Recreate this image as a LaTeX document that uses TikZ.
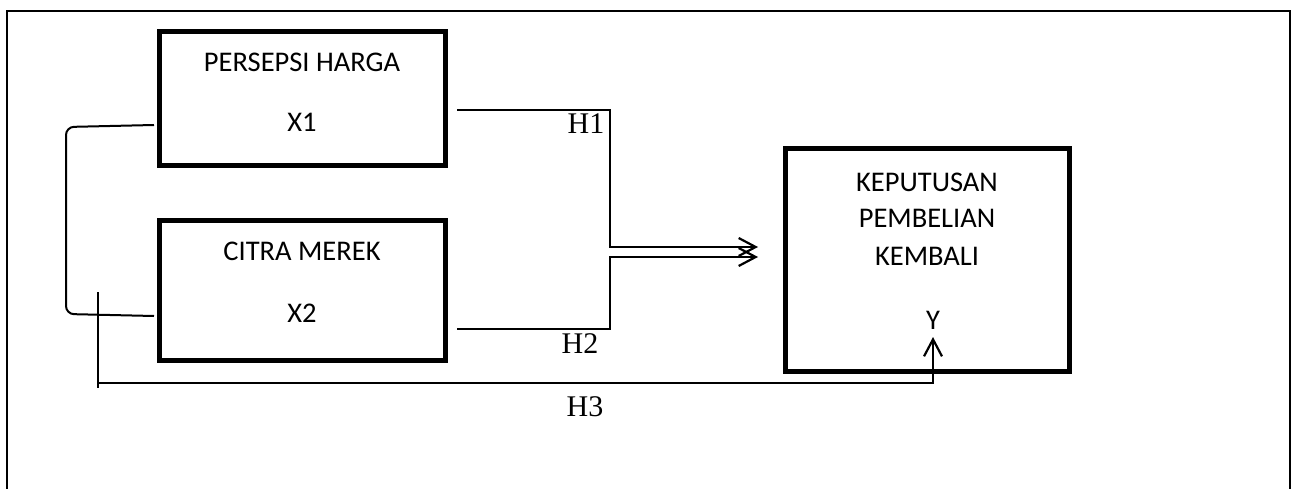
\documentclass[tikz,border=0pt]{standalone}
\usepackage{fontspec}
\setmainfont{Liberation Serif}
\newfontfamily\calfont{Carlito}
\usetikzlibrary{arrows.meta}
\begin{document}
\begin{tikzpicture}[x=1pt,y=-1pt,
  box/.style={draw, line width=5pt, inner sep=0pt},
  lbl/.style={font=\calfont\fontsize{28.5}{34}\selectfont, inner sep=0pt},
  hlbl/.style={font=\fontsize{30}{34}\selectfont, inner sep=0pt},
  conn/.style={line width=2pt},
  barb/.style={-{Straight Barb[length=17pt,width=18pt,line width=2.2pt]}}]
\useasboundingbox (0,0) rectangle (1292,489);
% outer frame
\draw[line width=2.5pt] (7,489) -- (7,11) -- (1290,11) -- (1290,489);
% boxes
\node[box, minimum width=285.5pt, minimum height=134pt] (x1) at (302.25,98.5) {};
\node[box, minimum width=285.5pt, minimum height=140pt] (x2) at (302.25,290.5) {};
\node[box, minimum width=284pt, minimum height=223pt] (y) at (927,260) {};
% texts
\node[lbl] (t1a) at (302,62) {PERSEPSI HARGA};
\node[lbl] (t1b) at (302,122) {X1};
\node[lbl] (t2a) at (302,251) {CITRA MEREK};
\node[lbl] (t2b) at (302,313) {X2};
\node[lbl] (t3a) at (927,182) {KEPUTUSAN};
\node[lbl] (t3b) at (927,218) {PEMBELIAN};
\node[lbl] (t3c) at (927,256) {KEMBALI};
\node[lbl] (t3d) at (933,320) {Y};
% coordinates
\coordinate (h1s) at (457,110);
\coordinate (h1c) at (610,110);
\coordinate (h1e) at (758,247);
\coordinate (h2s) at (457,329);
\coordinate (h2c) at (610,329);
\coordinate (h2e) at (758,257);
\coordinate (bt) at (154,125);
\coordinate (bb) at (154,316);
\coordinate (v3t) at (97.7,292);
\coordinate (v3b) at (97.7,388);
\coordinate (h3s) at (97.7,383);
\coordinate (h3c) at (933,383);
\coordinate (h3e) at (933,337);
% connectors
\draw[conn, barb] (h1s) -- (h1c) -- (h1c |- h1e) -- (h1e);
\draw[conn, barb] (h2s) -- (h2c) -- (h2c |- h2e) -- (h2e);
\draw[conn, rounded corners=8pt] (bt) -- (66,127) -- (66,314) -- (bb);
\draw[conn] (v3t) -- (v3b);
\draw[conn, barb] (h3s) -- (h3c) -- (h3e);
% labels
\node[hlbl] (l1) at (586,124) {H1};
\node[hlbl] (l2) at (580,344) {H2};
\node[hlbl] (l3) at (585,407) {H3};
\end{tikzpicture}
\end{document}
